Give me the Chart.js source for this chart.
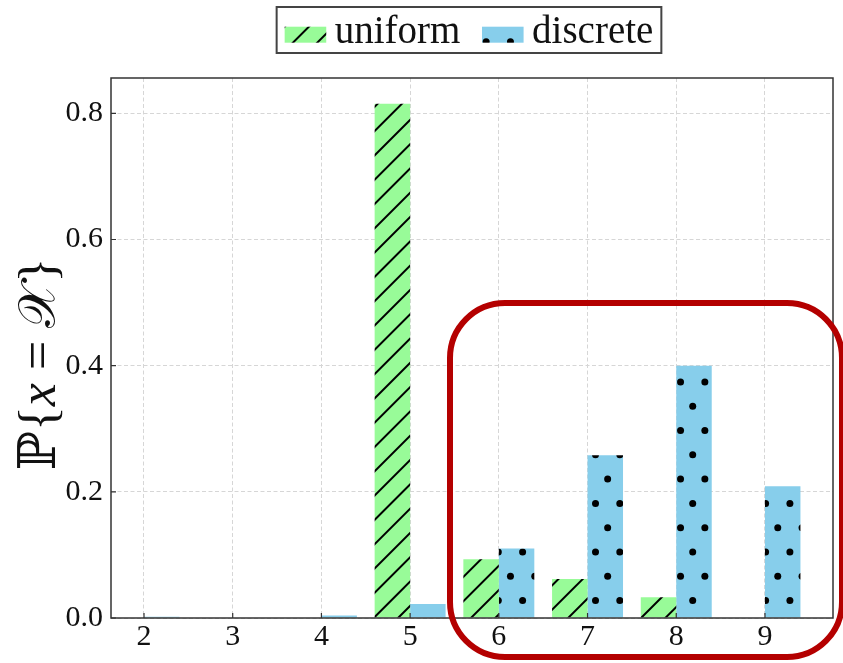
<!DOCTYPE html>
<html>
<head>
<meta charset="utf-8">
<script src="https://cdn.jsdelivr.net/npm/chart.js@4"></script>
<style>
  html, body { margin: 0; padding: 0; background: #fff; }
  #wrap { width: 843px; height: 663px; }
</style>
</head>
<body>
<div id="wrap"><canvas id="c" width="843" height="663"></canvas></div>
<script>
// Probability of each support value x under the two schemes
const categories   = [2, 3, 4, 5, 6, 7, 8, 9];
const uniformProb  = [0, 0, 0, 0.815, 0.093, 0.062, 0.033, 0];
const discreteProb = [0.002, 0, 0.004, 0.022, 0.110, 0.258, 0.400, 0.209];
const yTicks       = [0, 0.2, 0.4, 0.6, 0.8];
const seriesNames  = ['uniform', 'discrete'];

const W = 843, H = 663;
const SERIF = '"Liberation Serif", "Times New Roman", serif';

function baseCanvas(fill) {
  const c = document.createElement('canvas');
  c.width = W; c.height = H;
  const g = c.getContext('2d');
  g.fillStyle = fill;
  g.fillRect(0, 0, W, H);
  return [c, g];
}

// '//' hatch, anchored to the page so bars and legend share the same phase
function slashHatch() {
  const [c, g] = baseCanvas('#98FB98');
  g.strokeStyle = '#000';
  g.lineWidth = 2;
  const s = 24.3;
  for (let k = -2; k * s < W + H + s; k++) {
    const d = 19.7 + k * s;
    g.beginPath();
    g.moveTo(d - H - 10, H + 10);
    g.lineTo(d + 10, -10);
    g.stroke();
  }
  return c;
}

// '.' hatch: staggered dot grid
function dotHatch() {
  const [c, g] = baseCanvas('#87CEEB');
  g.fillStyle = '#000';
  const s = 24.3;
  for (let m = -25; m <= 6; m++) {
    const y = 552 + m * s;
    if (y < -6 || y > H + 6) continue;
    const x0 = (Math.abs(m) % 2 === 0) ? 498.3 : 510.45;
    for (let n = -25; n <= 20; n++) {
      const x = x0 + n * s;
      if (x < -6 || x > W + 6) continue;
      g.beginPath();
      g.arc(x, y, 3.5, 0, Math.PI * 2);
      g.fill();
    }
  }
  return c;
}

const canvas = document.getElementById('c');
const ctx = canvas.getContext('2d');
const slashPattern = ctx.createPattern(slashHatch(), 'no-repeat');
const dotPattern = ctx.createPattern(dotHatch(), 'no-repeat');
const fills = [slashPattern, dotPattern];

function roundRectPath(g, x, y, w, h, r) {
  g.beginPath();
  g.moveTo(x + r, y);
  g.lineTo(x + w - r, y);
  g.arcTo(x + w, y, x + w, y + r, r);
  g.lineTo(x + w, y + h - r);
  g.arcTo(x + w, y + h, x + w - r, y + h, r);
  g.lineTo(x + r, y + h);
  g.arcTo(x, y + h, x, y + h - r, r);
  g.lineTo(x, y + r);
  g.arcTo(x, y, x + r, y, r);
  g.closePath();
}

const decor = {
  id: 'decor',
  afterDraw(chart) {
    const g = chart.ctx;
    const a = chart.chartArea;
    const xs = chart.scales.x, ys = chart.scales.y;
    g.save();

    // axes frame
    g.strokeStyle = '#333';
    g.lineWidth = 1.5;
    g.strokeRect(a.left, a.top, a.right - a.left, a.bottom - a.top);

    // inward tick marks
    g.lineWidth = 1.2;
    g.beginPath();
    categories.forEach(v => {
      const px = xs.getPixelForValue(v);
      g.moveTo(px, a.bottom); g.lineTo(px, a.bottom - 5);
    });
    yTicks.forEach(v => {
      const py = ys.getPixelForValue(v);
      g.moveTo(a.left, py); g.lineTo(a.left + 5, py);
    });
    g.stroke();

    // y axis title: P{x = X}
    g.save();
    g.translate(41, 364);
    g.rotate(-Math.PI / 2);
    g.fillStyle = '#111';
    g.textBaseline = 'middle';
    const fs = 52;
    const parts = [
      { t: '\u2119', f: fs + 'px "DejaVu Serif", "DejaVu Sans", serif' },
      { t: '{', f: fs + 'px ' + SERIF },
      { t: 'x', f: 'italic ' + fs + 'px ' + SERIF },
      { t: ' = ', f: fs + 'px ' + SERIF },
      { t: '\uD835\uDCB3', f: fs + 'px "DejaVu Sans", "Noto Sans", "DejaVu Serif", serif' },
      { t: '}', f: fs + 'px ' + SERIF }
    ];
    let total = 0;
    parts.forEach(p => { g.font = p.f; p.w = g.measureText(p.t).width; total += p.w; });
    let cx = -total / 2;
    parts.forEach(p => { g.font = p.f; g.fillText(p.t, cx, 0); cx += p.w; });
    g.restore();

    // legend
    g.font = '39px ' + SERIF;
    const sw = 41.6, sh = 16, gap = 8.5, itemGap = 21.6;
    const tw = seriesNames.map(n => g.measureText(n).width);
    const inner = sw + gap + tw[0] + itemGap + sw + gap + tw[1];
    const fw = inner + 16;
    const fx = 469 - fw / 2;
    g.fillStyle = '#fff';
    g.fillRect(fx, 7, fw, 46);
    g.strokeStyle = '#444';
    g.lineWidth = 2;
    g.strokeRect(fx, 7, fw, 46);
    let lx = fx + 8;
    seriesNames.forEach((name, i) => {
      g.fillStyle = fills[i];
      g.fillRect(lx, 26.7, sw, sh);
      lx += sw + gap;
      g.fillStyle = '#111';
      g.textBaseline = 'alphabetic';
      g.fillText(name, lx, 43);
      lx += tw[i] + itemGap;
    });

    // highlight box around the 6-9 region
    g.strokeStyle = '#B40000';
    g.lineWidth = 6;
    roundRectPath(g, 450, 303, 392, 354, 55);
    g.stroke();

    g.restore();
  }
};

const gridStyle = { color: '#d6d6d6', lineWidth: 1, drawTicks: false, offset: false };
const tickFont = { family: SERIF, size: 30 };

new Chart(ctx, {
  type: 'bar',
  data: {
    datasets: [
      {
        label: seriesNames[0],
        data: categories.map((x, i) => ({ x, y: uniformProb[i] })),
        backgroundColor: slashPattern,
        borderWidth: 0
      },
      {
        label: seriesNames[1],
        data: categories.map((x, i) => ({ x, y: discreteProb[i] })),
        backgroundColor: dotPattern,
        borderWidth: 0
      }
    ]
  },
  options: {
    responsive: false,
    animation: false,
    layout: { padding: { left: 0, right: 10, top: 78, bottom: 0 } },
    datasets: { bar: { barPercentage: 1, categoryPercentage: 0.8 } },
    plugins: { legend: { display: false }, tooltip: { enabled: false } },
    scales: {
      x: {
        type: 'linear',
        min: 1.628,
        max: 9.767,
        offset: false,
        afterBuildTicks: s => { s.ticks = categories.map(v => ({ value: v })); },
        afterFit: s => { s.height = 45; },
        grid: gridStyle,
        border: { display: false, dash: [4, 2.5] },
        ticks: {
          padding: 1, color: '#111', font: tickFont,
          autoSkip: false, maxRotation: 0,
          callback: v => String(v)
        }
      },
      y: {
        min: 0,
        max: 0.856,
        afterBuildTicks: s => { s.ticks = yTicks.map(v => ({ value: v })); },
        afterFit: s => { s.width = 111; },
        grid: gridStyle,
        border: { display: false, dash: [4, 2.5] },
        ticks: {
          padding: 8, color: '#111', font: tickFont,
          callback: v => v.toFixed(1)
        }
      }
    }
  },
  plugins: [decor]
});
</script>
</body>
</html>
